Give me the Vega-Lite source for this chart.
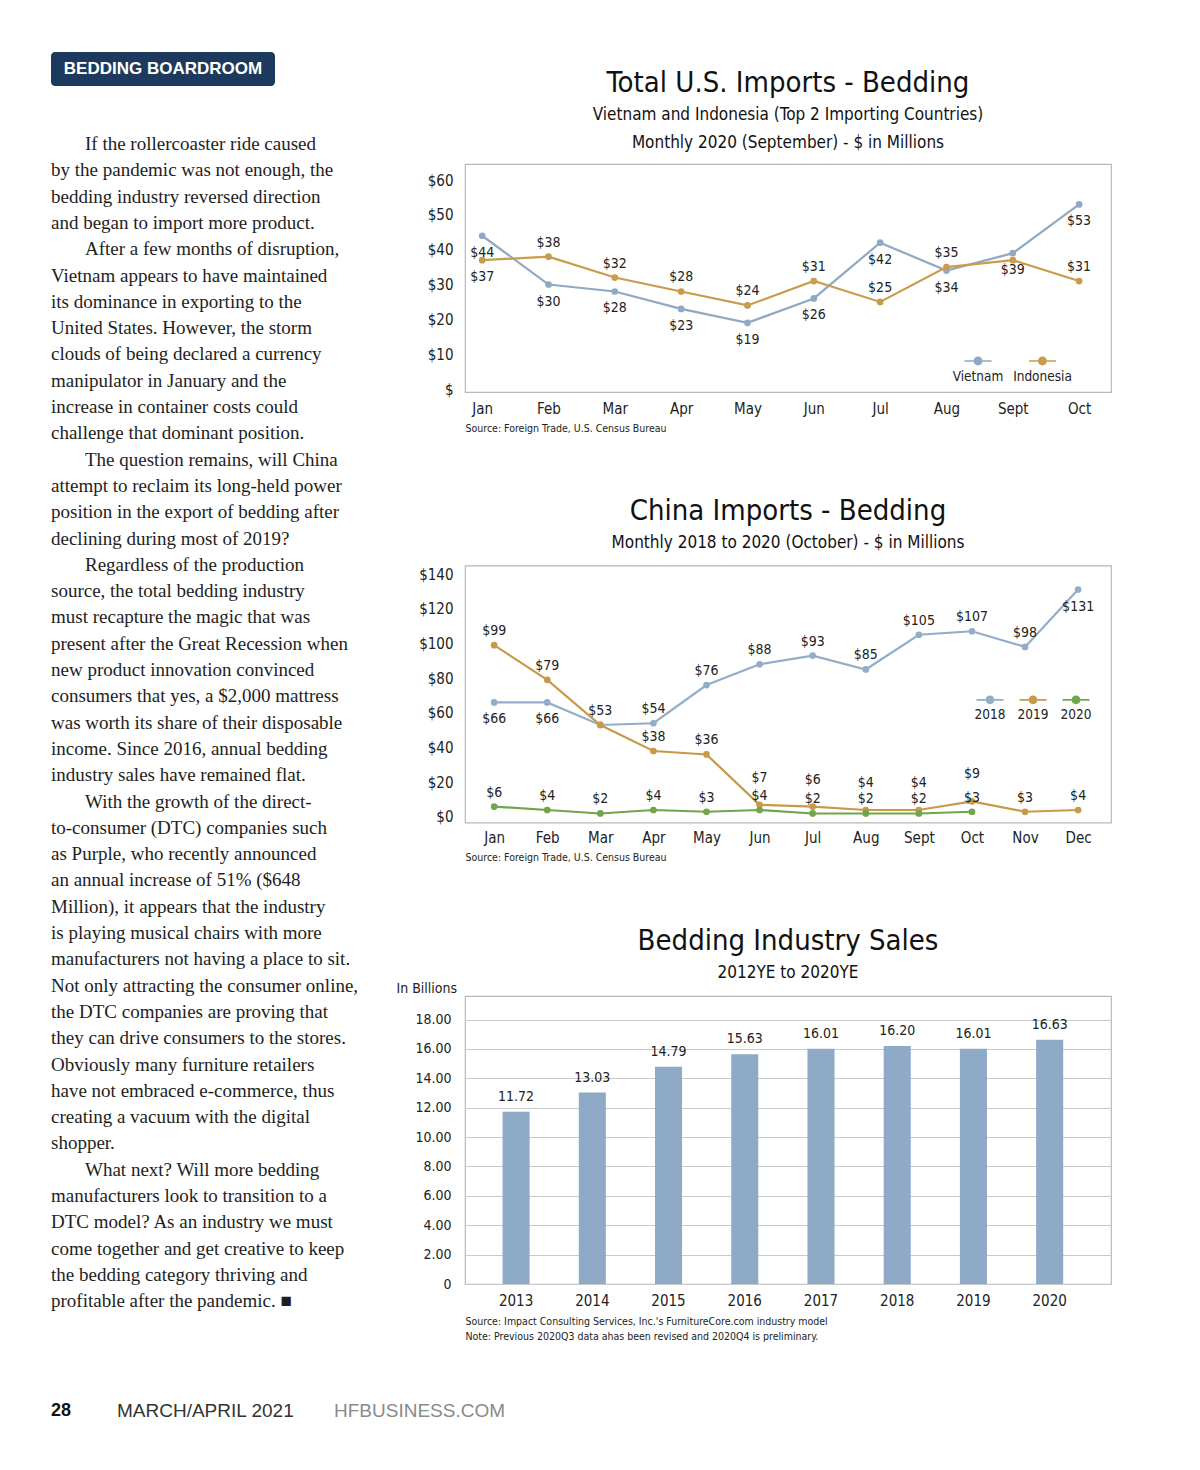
{
  "$schema": "https://vega.github.io/schema/vega-lite/v6.json",
  "background": "white",
  "padding": {"left": 51, "top": 51, "right": 10, "bottom": 10},
  "autosize": {"type": "pad"},
  "bounds": "flush",
  "spacing": 104,
  "resolve": {"scale": {"color": "independent", "fill": "independent"}, "legend": {"color": "independent", "fill": "independent"}},
  "config": {
    "font": "DejaVu Sans Condensed",
    "view": {"stroke": null},
    "axis": {"labelFont": "DejaVu Sans Condensed", "titleFont": "DejaVu Sans Condensed", "labelColor": "#222", "titleColor": "#222", "domain": false, "ticks": false, "tickSize": 0, "grid": false, "titleFontWeight": "normal", "labelFontSize": 15},
    "legend": {"labelFont": "DejaVu Sans Condensed", "labelFontSize": 13.5, "labelColor": "#222", "padding": 0},
    "title": {"font": "DejaVu Sans Condensed", "subtitleFont": "DejaVu Sans Condensed", "fontWeight": "normal", "color": "#111", "subtitleColor": "#111", "anchor": "middle", "frame": "group"},
    "text": {"font": "DejaVu Sans Condensed", "fontSize": 14, "color": "#222"}
  },
  "datasets": {
    "article": [
      {"line": 1, "t": "If the rollercoaster ride caused", "indent": true},
      {"line": 2, "t": "by the pandemic was not enough, the", "indent": false},
      {"line": 3, "t": "bedding industry reversed direction", "indent": false},
      {"line": 4, "t": "and began to import more product.", "indent": false},
      {"line": 5, "t": "After a few months of disruption,", "indent": true},
      {"line": 6, "t": "Vietnam appears to have maintained", "indent": false},
      {"line": 7, "t": "its dominance in exporting to the", "indent": false},
      {"line": 8, "t": "United States. However, the storm", "indent": false},
      {"line": 9, "t": "clouds of being declared a currency", "indent": false},
      {"line": 10, "t": "manipulator in January and the", "indent": false},
      {"line": 11, "t": "increase in container costs could", "indent": false},
      {"line": 12, "t": "challenge that dominant position.", "indent": false},
      {"line": 13, "t": "The question remains, will China", "indent": true},
      {"line": 14, "t": "attempt to reclaim its long-held power", "indent": false},
      {"line": 15, "t": "position in the export of bedding after", "indent": false},
      {"line": 16, "t": "declining during most of 2019?", "indent": false},
      {"line": 17, "t": "Regardless of the production", "indent": true},
      {"line": 18, "t": "source, the total bedding industry", "indent": false},
      {"line": 19, "t": "must recapture the magic that was", "indent": false},
      {"line": 20, "t": "present after the Great Recession when", "indent": false},
      {"line": 21, "t": "new product innovation convinced", "indent": false},
      {"line": 22, "t": "consumers that yes, a $2,000 mattress", "indent": false},
      {"line": 23, "t": "was worth its share of their disposable", "indent": false},
      {"line": 24, "t": "income. Since 2016, annual bedding", "indent": false},
      {"line": 25, "t": "industry sales have remained flat.", "indent": false},
      {"line": 26, "t": "With the growth of the direct-", "indent": true},
      {"line": 27, "t": "to-consumer (DTC) companies such", "indent": false},
      {"line": 28, "t": "as Purple, who recently announced", "indent": false},
      {"line": 29, "t": "an annual increase of 51% ($648", "indent": false},
      {"line": 30, "t": "Million), it appears that the industry", "indent": false},
      {"line": 31, "t": "is playing musical chairs with more", "indent": false},
      {"line": 32, "t": "manufacturers not having a place to sit.", "indent": false},
      {"line": 33, "t": "Not only attracting the consumer online,", "indent": false},
      {"line": 34, "t": "the DTC companies are proving that", "indent": false},
      {"line": 35, "t": "they can drive consumers to the stores.", "indent": false},
      {"line": 36, "t": "Obviously many furniture retailers", "indent": false},
      {"line": 37, "t": "have not embraced e-commerce, thus", "indent": false},
      {"line": 38, "t": "creating a vacuum with the digital", "indent": false},
      {"line": 39, "t": "shopper.", "indent": false},
      {"line": 40, "t": "What next? Will more bedding", "indent": true},
      {"line": 41, "t": "manufacturers look to transition to a", "indent": false},
      {"line": 42, "t": "DTC model? As an industry we must", "indent": false},
      {"line": 43, "t": "come together and get creative to keep", "indent": false},
      {"line": 44, "t": "the bedding category thriving and", "indent": false},
      {"line": 45, "t": "profitable after the pandemic. \u25a0", "indent": false}
    ],
    "badge": [{"label": "BEDDING BOARDROOM"}],
    "footer": [
      {"part": "page", "t": "28"},
      {"part": "issue", "t": "MARCH/APRIL 2021"},
      {"part": "site", "t": "HFBUSINESS.COM"}
    ],
    "ch1": [
      {"month": "Jan", "country": "Vietnam", "value": 44},
      {"month": "Feb", "country": "Vietnam", "value": 30},
      {"month": "Mar", "country": "Vietnam", "value": 28},
      {"month": "Apr", "country": "Vietnam", "value": 23},
      {"month": "May", "country": "Vietnam", "value": 19},
      {"month": "Jun", "country": "Vietnam", "value": 26},
      {"month": "Jul", "country": "Vietnam", "value": 42},
      {"month": "Aug", "country": "Vietnam", "value": 34},
      {"month": "Sept", "country": "Vietnam", "value": 39},
      {"month": "Oct", "country": "Vietnam", "value": 53},
      {"month": "Jan", "country": "Indonesia", "value": 37},
      {"month": "Feb", "country": "Indonesia", "value": 38},
      {"month": "Mar", "country": "Indonesia", "value": 32},
      {"month": "Apr", "country": "Indonesia", "value": 28},
      {"month": "May", "country": "Indonesia", "value": 24},
      {"month": "Jun", "country": "Indonesia", "value": 31},
      {"month": "Jul", "country": "Indonesia", "value": 25},
      {"month": "Aug", "country": "Indonesia", "value": 35},
      {"month": "Sept", "country": "Indonesia", "value": 37},
      {"month": "Oct", "country": "Indonesia", "value": 31}
    ],
    "ch2": [
      {"month": "Jan", "year": "2018", "value": 66},
      {"month": "Feb", "year": "2018", "value": 66},
      {"month": "Mar", "year": "2018", "value": 53},
      {"month": "Apr", "year": "2018", "value": 54},
      {"month": "May", "year": "2018", "value": 76},
      {"month": "Jun", "year": "2018", "value": 88},
      {"month": "Jul", "year": "2018", "value": 93},
      {"month": "Aug", "year": "2018", "value": 85},
      {"month": "Sept", "year": "2018", "value": 105},
      {"month": "Oct", "year": "2018", "value": 107},
      {"month": "Nov", "year": "2018", "value": 98},
      {"month": "Dec", "year": "2018", "value": 131},
      {"month": "Jan", "year": "2019", "value": 99},
      {"month": "Feb", "year": "2019", "value": 79},
      {"month": "Mar", "year": "2019", "value": 53},
      {"month": "Apr", "year": "2019", "value": 38},
      {"month": "May", "year": "2019", "value": 36},
      {"month": "Jun", "year": "2019", "value": 7},
      {"month": "Jul", "year": "2019", "value": 6},
      {"month": "Aug", "year": "2019", "value": 4},
      {"month": "Sept", "year": "2019", "value": 4},
      {"month": "Oct", "year": "2019", "value": 9},
      {"month": "Nov", "year": "2019", "value": 3},
      {"month": "Dec", "year": "2019", "value": 4},
      {"month": "Jan", "year": "2020", "value": 6},
      {"month": "Feb", "year": "2020", "value": 4},
      {"month": "Mar", "year": "2020", "value": 2},
      {"month": "Apr", "year": "2020", "value": 4},
      {"month": "May", "year": "2020", "value": 3},
      {"month": "Jun", "year": "2020", "value": 4},
      {"month": "Jul", "year": "2020", "value": 2},
      {"month": "Aug", "year": "2020", "value": 2},
      {"month": "Sept", "year": "2020", "value": 2},
      {"month": "Oct", "year": "2020", "value": 3}
    ],
    "ch3": [
      {"year": "2013", "sales": 11.72},
      {"year": "2014", "sales": 13.03},
      {"year": "2015", "sales": 14.79},
      {"year": "2016", "sales": 15.63},
      {"year": "2017", "sales": 16.01},
      {"year": "2018", "sales": 16.20},
      {"year": "2019", "sales": 16.01},
      {"year": "2020", "sales": 16.63}
    ]
  },
  "hconcat": [
    {
      "width": 310,
      "height": 1137,
      "layer": [
        {
          "data": {"name": "badge"},
          "mark": {"type": "rect", "cornerRadius": 4, "color": "#1d3a5e"},
          "encoding": {
            "x": {"datum": 0, "type": "quantitative", "scale": {"domain": [0, 310], "nice": false, "zero": false}, "axis": null},
            "x2": {"datum": 224},
            "y": {"datum": -2.498, "type": "quantitative", "scale": {"domain": [1.7605, 44.9905], "reverse": true, "nice": false, "zero": false}, "axis": null},
            "y2": {"datum": -1.205}
          }
        },
        {
          "data": {"name": "badge"},
          "mark": {"type": "text", "font": "Liberation Sans", "fontSize": 17, "fontWeight": "bold", "color": "white", "align": "center", "baseline": "middle"},
          "encoding": {
            "text": {"field": "label"},
            "x": {"datum": 112, "type": "quantitative", "scale": {"domain": [0, 310], "nice": false, "zero": false}, "axis": null},
            "y": {"datum": -1.85, "type": "quantitative", "scale": {"domain": [1.7605, 44.9905], "reverse": true, "nice": false, "zero": false}, "axis": null}
          }
        },
        {
          "data": {"name": "article"},
          "transform": [{"filter": "!datum.indent"}],
          "mark": {"type": "text", "font": "Liberation Serif", "fontSize": 19, "color": "#1e1e1e", "align": "left", "baseline": "middle"},
          "encoding": {
            "text": {"field": "t"},
            "x": {"datum": 0, "type": "quantitative", "scale": {"domain": [0, 310], "nice": false, "zero": false}, "axis": null},
            "y": {"field": "line", "type": "quantitative", "scale": {"domain": [1.7605, 44.9905], "reverse": true, "nice": false, "zero": false}, "axis": null}
          }
        },
        {
          "data": {"name": "article"},
          "transform": [{"filter": "datum.indent"}],
          "mark": {"type": "text", "font": "Liberation Serif", "fontSize": 19, "color": "#1e1e1e", "align": "left", "baseline": "middle"},
          "encoding": {
            "text": {"field": "t"},
            "x": {"datum": 34, "type": "quantitative", "scale": {"domain": [0, 310], "nice": false, "zero": false}, "axis": null},
            "y": {"field": "line", "type": "quantitative", "scale": {"domain": [1.7605, 44.9905], "reverse": true, "nice": false, "zero": false}, "axis": null}
          }
        },
        {
          "data": {"name": "footer"},
          "transform": [{"filter": "datum.part == 'page'"}],
          "mark": {"type": "text", "font": "Liberation Sans", "fontSize": 18, "fontWeight": "bold", "color": "#111", "align": "left", "baseline": "middle"},
          "encoding": {
            "text": {"field": "t"},
            "x": {"datum": 0, "type": "quantitative", "scale": {"domain": [0, 310], "nice": false, "zero": false}, "axis": null},
            "y": {"datum": 49.17, "type": "quantitative", "scale": {"domain": [1.7605, 44.9905], "reverse": true, "nice": false, "zero": false}, "axis": null}
          }
        },
        {
          "data": {"name": "footer"},
          "transform": [{"filter": "datum.part == 'issue'"}],
          "mark": {"type": "text", "font": "Liberation Sans", "fontSize": 19, "color": "#333", "align": "left", "baseline": "middle"},
          "encoding": {
            "text": {"field": "t"},
            "x": {"datum": 66, "type": "quantitative", "scale": {"domain": [0, 310], "nice": false, "zero": false}, "axis": null},
            "y": {"datum": 49.17, "type": "quantitative", "scale": {"domain": [1.7605, 44.9905], "reverse": true, "nice": false, "zero": false}, "axis": null}
          }
        },
        {
          "data": {"name": "footer"},
          "transform": [{"filter": "datum.part == 'site'"}],
          "mark": {"type": "text", "font": "Liberation Sans", "fontSize": 19, "color": "#8a8a8a", "align": "left", "baseline": "middle"},
          "encoding": {
            "text": {"field": "t"},
            "x": {"datum": 283, "type": "quantitative", "scale": {"domain": [0, 310], "nice": false, "zero": false}, "axis": null},
            "y": {"datum": 49.17, "type": "quantitative", "scale": {"domain": [1.7605, 44.9905], "reverse": true, "nice": false, "zero": false}, "axis": null}
          }
        }
      ]
    },
    {
      "bounds": "flush",
      "spacing": 173.5,
      "resolve": {"scale": {"color": "independent", "fill": "independent"}, "legend": {"color": "independent", "fill": "independent"}},
      "vconcat": [
        {
          "width": 646,
          "height": 228,
          "view": {"stroke": "#b8b8b8", "strokeWidth": 1.2, "fill": "white"},
          "title": {
            "text": "Total U.S. Imports - Bedding",
            "subtitle": ["Vietnam and Indonesia (Top 2 Importing Countries)", "Monthly 2020 (September) - $ in Millions"],
            "fontSize": 29,
            "subtitleFontSize": 17,
            "subtitleLineHeight": 28,
            "subtitlePadding": 9,
            "offset": 13
          },
          "data": {"name": "ch1"},
          "encoding": {
            "x": {
              "field": "month", "type": "nominal",
              "scale": {"type": "point", "domain": ["Jan", "Feb", "Mar", "Apr", "May", "Jun", "Jul", "Aug", "Sept", "Oct"], "padding": 0.37, "align": 0.35},
              "axis": {"labelAngle": 0, "labelPadding": 9, "title": "Source: Foreign Trade, U.S. Census Bureau", "titleAnchor": "start", "titleAlign": "left", "titleFontSize": 10.5, "titlePadding": 7}
            },
            "y": {
              "field": "value", "type": "quantitative",
              "scale": {"domain": [-0.86, 64.6], "nice": false, "zero": false},
              "axis": {"values": [0, 10, 20, 30, 40, 50, 60], "labelExpr": "datum.value == 0 ? '$' : '$' + datum.value", "title": null, "labelPadding": 12}
            }
          },
          "layer": [
            {
              "mark": {"type": "line", "strokeWidth": 2.2},
              "encoding": {"color": {"field": "country", "type": "nominal", "scale": {"range": ["#c99b4b", "#8fa8c4"]}, "legend": null}}
            },
            {
              "mark": {"type": "point", "filled": true, "size": 45, "opacity": 1},
              "encoding": {"fill": {"field": "country", "type": "nominal", "scale": {"domain": ["Vietnam", "Indonesia"], "range": ["#8fa8c4", "#c99b4b"]},
                "legend": {"title": null, "orient": "none", "legendX": 499.5, "legendY": 199, "direction": "horizontal", "symbolType": "M-1,-1.21H-0.33V-1.09H-1Z M0.33,-1.21H1V-1.09H0.33Z M0.33,-1.15A0.33,0.33 0 1 1 -0.33,-1.15A0.33,0.33 0 1 1 0.33,-1.15Z", "symbolSize": 729, "symbolStrokeWidth": 0, "labelAlign": "center", "labelOffset": -13.5, "columnPadding": 9.5}}}
            },
            {
              "transform": [{"filter": "datum.country == 'Vietnam' || datum.month == 'Jan'"}],
              "mark": {"type": "text", "dy": 17, "baseline": "middle"},
              "encoding": {"text": {"field": "value", "type": "quantitative", "format": "$.0f"}}
            },
            {
              "transform": [{"filter": "datum.country == 'Indonesia' && datum.month != 'Jan' && datum.month != 'Sept'"}],
              "mark": {"type": "text", "dy": -14, "baseline": "middle"},
              "encoding": {"text": {"field": "value", "type": "quantitative", "format": "$.0f"}}
            }
          ]
        },
        {
          "width": 646,
          "height": 257,
          "view": {"stroke": "#b8b8b8", "strokeWidth": 1.2, "fill": "white"},
          "title": {
            "text": "China Imports - Bedding",
            "subtitle": "Monthly 2018 to 2020 (October) - $ in Millions",
            "fontSize": 29,
            "subtitleFontSize": 17,
            "subtitleLineHeight": 28,
            "subtitlePadding": 9,
            "offset": 15
          },
          "data": {"name": "ch2"},
          "encoding": {
            "x": {
              "field": "month", "type": "nominal",
              "scale": {"type": "point", "domain": ["Jan", "Feb", "Mar", "Apr", "May", "Jun", "Jul", "Aug", "Sept", "Oct", "Nov", "Dec"], "padding": 0.584, "align": 0.47},
              "axis": {"labelAngle": 0, "labelPadding": 8, "title": "Source: Foreign Trade, U.S. Census Bureau", "titleAnchor": "start", "titleAlign": "left", "titleFontSize": 10.5, "titlePadding": 7}
            },
            "y": {
              "field": "value", "type": "quantitative",
              "scale": {"domain": [-3.2, 144.9], "nice": false, "zero": false},
              "axis": {"values": [0, 20, 40, 60, 80, 100, 120, 140], "labelExpr": "'$' + datum.value", "title": null, "labelPadding": 12}
            }
          },
          "layer": [
            {
              "mark": {"type": "line", "strokeWidth": 2.2},
              "encoding": {"color": {"field": "year", "type": "nominal", "scale": {"range": ["#93adc9", "#c9994a", "#6fa54b"]}, "legend": null}}
            },
            {
              "mark": {"type": "point", "filled": true, "size": 45, "opacity": 1},
              "encoding": {"fill": {"field": "year", "type": "nominal", "scale": {"domain": ["2018", "2019", "2020"], "range": ["#93adc9", "#c9994a", "#6fa54b"]},
                "legend": {"title": null, "orient": "none", "legendX": 511.5, "legendY": 135.7, "direction": "horizontal", "symbolType": "M-1,-1.16H-0.33V-1.04H-1Z M0.33,-1.16H1V-1.04H0.33Z M0.33,-1.1A0.33,0.33 0 1 1 -0.33,-1.1A0.33,0.33 0 1 1 0.33,-1.1Z", "symbolSize": 729, "symbolStrokeWidth": 0, "labelAlign": "center", "labelOffset": -13.5, "columnPadding": 12}}}
            },
            {
              "transform": [{"filter": "!(datum.year == '2018' && (datum.month == 'Jan' || datum.month == 'Feb' || datum.month == 'Dec')) && !(datum.year == '2019' && (datum.month == 'Mar' || datum.month == 'Jun' || datum.month == 'Jul' || datum.month == 'Aug' || datum.month == 'Sept' || datum.month == 'Oct'))"}],
              "mark": {"type": "text", "dy": -14, "baseline": "middle"},
              "encoding": {"text": {"field": "value", "type": "quantitative", "format": "$.0f"}}
            },
            {
              "transform": [{"filter": "datum.year == '2019' && (datum.month == 'Jun' || datum.month == 'Jul' || datum.month == 'Aug' || datum.month == 'Sept' || datum.month == 'Oct')"}],
              "mark": {"type": "text", "dy": -27, "baseline": "middle"},
              "encoding": {"text": {"field": "value", "type": "quantitative", "format": "$.0f"}}
            },
            {
              "transform": [{"filter": "datum.year == '2018' && (datum.month == 'Jan' || datum.month == 'Feb' || datum.month == 'Dec')"}],
              "mark": {"type": "text", "dy": 17, "baseline": "middle"},
              "encoding": {"text": {"field": "value", "type": "quantitative", "format": "$.0f"}}
            }
          ]
        },
        {
          "width": 646,
          "height": 288,
          "view": {"stroke": "#b8b8b8", "strokeWidth": 1.2, "fill": "white"},
          "title": {
            "text": "Bedding Industry Sales",
            "subtitle": "2012YE to 2020YE",
            "fontSize": 29,
            "subtitleFontSize": 17,
            "subtitleLineHeight": 26,
            "subtitlePadding": 9,
            "offset": 0
          },
          "data": {"name": "ch3"},
          "encoding": {
            "x": {
              "field": "year", "type": "nominal",
              "scale": {"paddingInner": 0.645, "paddingOuter": 0.56, "align": 0.44},
              "axis": {"labelAngle": 0, "labelPadding": 9, "title": ["Source: Impact Consulting Services, Inc.'s FurnitureCore.com industry model", "Note: Previous 2020Q3 data ahas been revised and 2020Q4 is preliminary."], "titleAnchor": "start", "titleAlign": "left", "titleFontSize": 10.5, "titleLineHeight": 15, "titlePadding": 8}
            },
            "y": {
              "field": "sales", "type": "quantitative",
              "scale": {"domain": [0, 19.6], "nice": false, "zero": false},
              "axis": {"values": [0, 2, 4, 6, 8, 10, 12, 14, 16, 18], "labelExpr": "datum.value == 0 ? '0' : format(datum.value, '.2f')", "grid": true, "gridColor": "#c9c9c9", "gridWidth": 1, "labelPadding": 14, "labelFontSize": 14, "title": "In Billions", "titleAngle": 0, "titleAlign": "left", "titleBaseline": "middle", "titleX": -69, "titleY": -8, "titleFontSize": 14}
            }
          },
          "layer": [
            {"mark": {"type": "bar", "color": "#8eaac6"}},
            {
              "mark": {"type": "text", "dy": -15, "baseline": "middle"},
              "encoding": {"text": {"field": "sales", "type": "quantitative", "format": ".2f"}}
            }
          ]
        }
      ]
    }
  ]
}
